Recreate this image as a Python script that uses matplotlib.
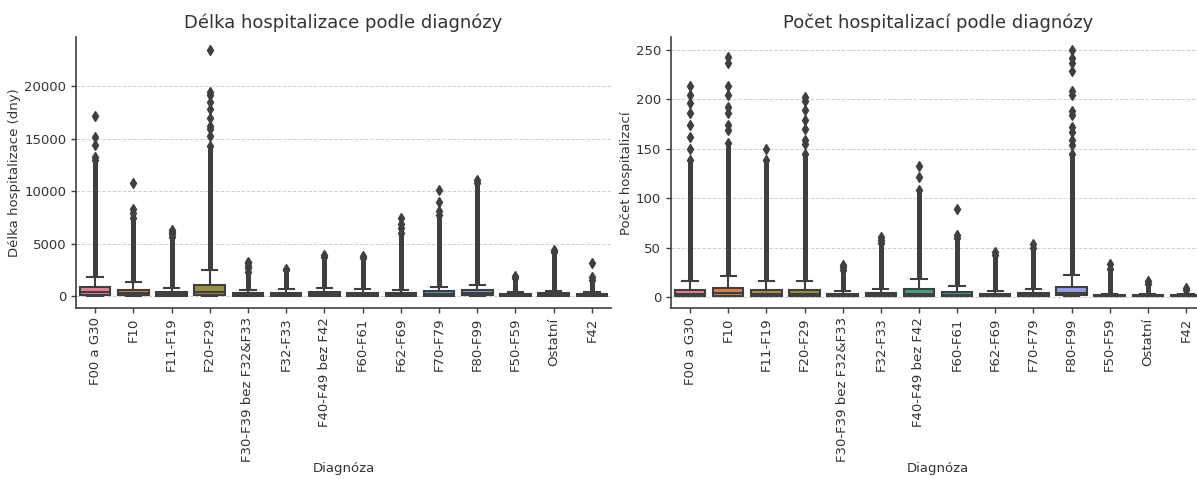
import matplotlib
matplotlib.use("Agg")
import matplotlib.pyplot as plt
import seaborn as sns

# Diagnosis groups (same order in both panels)
categories = [
    "F00 a G30", "F10", "F11-F19", "F20-F29", "F30-F39 bez F32&F33",
    "F32-F33", "F40-F49 bez F42", "F60-F61", "F62-F69", "F70-F79",
    "F80-F99", "F50-F59", "Ostatní", "F42",
]

# Length of hospitalisation (days): box statistics
los_min = [0, 0, 0, 0, 0, 0, 0, 0, 0, 0, 0, 0, 0, 0]
los_q1 = [60, 50, 20, 60, 20, 30, 30, 30, 20, 40, 50, 10, 20, 10]
los_med = [420, 300, 150, 380, 100, 120, 150, 130, 100, 220, 250, 50, 90, 50]
los_q3 = [820, 600, 380, 1080, 290, 300, 400, 330, 320, 480, 540, 150, 250, 150]
los_whi = [1800, 1330, 760, 2500, 570, 670, 800, 700, 600, 900, 1050, 350, 500, 350]
# upper end of the continuous band of outliers above the whisker
los_band_top = [13000, 7400, 5600, 14300, 2300, 2500, 3700, 3600, 6000, 7700, 10800, 1700, 4200, 1500]
# separate outliers above the band
los_outliers = [
    [13300, 14400, 15200, 17200],
    [7900, 8300, 10750],
    [5900, 6100, 6300],
    [15300, 15900, 16200, 17000, 17800, 18500, 19200, 19500, 23500],
    [2700, 2900, 3100, 3200],
    [2600],
    [3900],
    [3800],
    [6500, 6900, 7400],
    [8100, 9000, 10100],
    [11100],
    [1900],
    [4400],
    [1800, 3100],
]

# Number of hospitalisations: box statistics
cnt_min = [1, 1, 1, 1, 1, 1, 1, 1, 1, 1, 1, 1, 1, 1]
cnt_q1 = [1, 1, 1, 1, 1, 1, 1, 1, 1, 1, 2, 1, 1, 1]
cnt_med = [3, 4, 3, 3, 2, 2, 3, 2, 2, 2, 4, 1, 1, 1]
cnt_q3 = [7, 9, 7, 7, 3, 4, 8, 5, 3, 4, 10, 2, 2, 2]
cnt_whi = [16, 21, 16, 16, 6, 8, 18, 11, 6, 8, 22, 3, 3, 3]
cnt_band_top = [138, 156, 138, 145, 27, 55, 108, 60, 42, 50, 145, 28, 13, 7]
cnt_outliers = [
    [150, 162, 174, 186, 196, 204, 213],
    [169, 174, 186, 192, 204, 213, 236, 243],
    [150],
    [155, 159, 170, 179, 189, 198, 202],
    [30, 32],
    [58, 61],
    [121, 132],
    [63, 89],
    [45],
    [54],
    [154, 159, 167, 172, 184, 188, 204, 208, 228, 236, 242, 250],
    [33],
    [16],
    [9],
]

TEXT = "#333333"
LINE = "#3f3f3f"

palette = [sns.desaturate(c, 0.75) for c in sns.color_palette("husl", len(categories))]

plt.rcParams.update({
    "font.family": ["DejaVu Sans"],
    "font.size": 9.5,
    "text.color": TEXT,
    "axes.labelcolor": TEXT,
    "xtick.color": TEXT,
    "ytick.color": TEXT,
    "axes.edgecolor": LINE,
})

W, H = 1197, 479
fig = plt.figure(figsize=(W / 100, H / 100), dpi=100)
ax1 = fig.add_axes([76 / W, (H - 308.3) / H, 535 / W, 271 / H])
ax2 = fig.add_axes([671 / W, (H - 308.3) / H, 534 / W, 271 / H])


def draw_panel(ax, lo, q1, med, q3, whi, band_top, outliers, title, ylabel):
    positions = list(range(len(categories)))
    stats = [
        dict(label=name, whislo=lo[i], q1=q1[i], med=med[i], q3=q3[i],
             whishi=whi[i], fliers=[])
        for i, name in enumerate(categories)
    ]
    line_kw = dict(color=LINE, linewidth=1.5)
    bp = ax.bxp(
        stats, positions=positions, widths=0.8, patch_artist=True,
        showfliers=False,
        boxprops=dict(edgecolor=LINE, linewidth=1.5),
        medianprops=line_kw, whiskerprops=line_kw, capprops=line_kw,
    )
    for patch, color in zip(bp["boxes"], palette):
        patch.set_facecolor(color)

    # outliers: dense band drawn as a solid column, separate ones as diamonds
    for i in positions:
        ax.vlines(i, whi[i], band_top[i], color=LINE, linewidth=3.6, zorder=2.5)
        pts = [band_top[i]] + list(outliers[i])
        ax.plot([i] * len(pts), pts, linestyle="none", marker="d",
                markersize=5.5, color=LINE, markeredgecolor=LINE, zorder=2.6)

    ax.set_xlim(-0.5, len(categories) - 0.5)
    ax.set_xticks(positions)
    ax.set_xticklabels(categories, rotation=90)
    ax.set_axisbelow(True)
    ax.yaxis.grid(True, linestyle="--", color="#cfcfcf", linewidth=0.7)
    ax.xaxis.grid(False)
    for side in ("top", "right"):
        ax.spines[side].set_visible(False)
    for side in ("left", "bottom"):
        ax.spines[side].set_linewidth(1.2)
    ax.tick_params(axis="both", direction="out", length=3.5, width=1, color=LINE)
    ax.tick_params(axis="x", pad=3)
    ax.set_title(title, fontsize=13, color=TEXT, pad=7)
    ax.set_xlabel("Diagnóza", labelpad=0)
    ax.set_ylabel(ylabel, labelpad=2)


draw_panel(ax1, los_min, los_q1, los_med, los_q3, los_whi, los_band_top,
           los_outliers, "Délka hospitalizace podle diagnózy",
           "Délka hospitalizace (dny)")
draw_panel(ax2, cnt_min, cnt_q1, cnt_med, cnt_q3, cnt_whi, cnt_band_top,
           cnt_outliers, "Počet hospitalizací podle diagnózy",
           "Počet hospitalizací")

fig.savefig("out.png", dpi=100)
